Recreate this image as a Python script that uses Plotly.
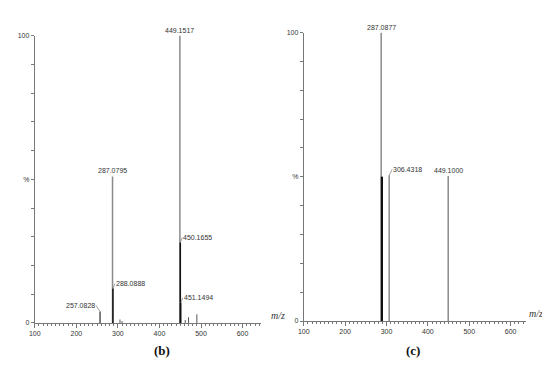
import plotly.graph_objects as go

# ---- data ----
# panel (b)
b_mz = [257.0828, 287.0795, 288.0888, 449.1517, 450.1655, 451.1494]
b_int = [4, 51, 12, 100, 28, 7]
b_col = ["#555555", "#8a8a8a", "#111111", "#8a8a8a", "#111111", "#111111"]
b_noise_mz = [305, 310, 462, 470, 490]
b_noise_int = [1.2, 0.6, 1.0, 2.0, 3.0]
b_labels = ["257.0828", "287.0795", "288.0888", "449.1517", "450.1655", "451.1494"]
b_label_offsets = [(-4, -6), None, (2, -5), None, (2, -5), (2, -5)]

# panel (c)
c_mz = [287.0877, 306.4318, 449.1000]
c_int = [100, 50.5, 50.3]
c_black_mz = [288.0, 289.5]
c_black_int = [50, 50]
c_labels = ["287.0877", "306.4318", "449.1000"]
c_label_offsets = [None, (3, -6), None]

x_ticks = [100, 200, 300, 400, 500, 600]
y_ticks = list(range(0, 101, 10))
y_ticktext = ["0", "", "", "", "", "%", "", "", "", "", "100"]

W, H = 550, 368
def px(x): return x / W
def py(y): return 1 - y / H

fig = go.Figure()

def stick_trace(mz, inten, color, xa, ya, width=1.4):
    xs, ys = [], []
    for m, i in zip(mz, inten):
        xs += [m, m, None]
        ys += [0, i, None]
    return go.Scatter(x=xs, y=ys, mode="lines", line=dict(color=color, width=width),
                      xaxis=xa, yaxis=ya, showlegend=False, hoverinfo="skip")

fig.add_trace(stick_trace(b_noise_mz, b_noise_int, "#555555", "x", "y", 1))
for m, i, c in zip(b_mz, b_int, b_col):
    fig.add_trace(stick_trace([m], [i], c, "x", "y", 1.5))

fig.add_trace(stick_trace(c_mz, c_int, "#8a8a8a", "x2", "y2", 1.5))
fig.add_trace(stick_trace(c_black_mz, c_black_int, "#111111", "x2", "y2", 1.6))

lab_font = dict(family="Arial, Liberation Sans", size=7, color="#333333")
annotations = []
def add_labels(mz, inten, labels, offsets, xref, yref):
    for m, i, t, off in zip(mz, inten, labels, offsets):
        if off is None:
            annotations.append(dict(x=m, y=i, xref=xref, yref=yref, text=t, showarrow=False,
                                    yanchor="bottom", yshift=0, font=lab_font))
        else:
            annotations.append(dict(x=m, y=i, xref=xref, yref=yref, text=t, showarrow=True,
                                    ax=off[0], ay=off[1],
                                    arrowhead=0, arrowwidth=0.7, arrowcolor="#777777",
                                    standoff=0, startstandoff=0, font=lab_font,
                                    xanchor="left" if off[0] > 0 else "right",
                                    yanchor="middle", borderpad=0))

add_labels(b_mz, b_int, b_labels, b_label_offsets, "x", "y")
add_labels(c_mz, c_int, c_labels, c_label_offsets, "x2", "y2")

mz_font = dict(family="Liberation Serif, Times New Roman", size=10, color="#333333")
annotations += [
    dict(x=px(267), y=py(317), xref="paper", yref="paper", text="<i>m/z</i>", showarrow=False, font=mz_font),
    dict(x=px(537), y=py(315), xref="paper", yref="paper", text="<i>m/z</i>", showarrow=False, font=mz_font),
    dict(x=px(140), y=py(355), xref="paper", yref="paper", text="<b>(b)</b>", showarrow=False,
         font=dict(family="Liberation Serif, Times New Roman", size=13, color="#111111")),
    dict(x=px(412), y=py(355), xref="paper", yref="paper", text="<b>(c)</b>", showarrow=False,
         font=dict(family="Liberation Serif, Times New Roman", size=13, color="#111111")),
]

tick_font = dict(family="Arial, Liberation Sans", size=7, color="#333333")
def xaxis_cfg(domain, rng, anchor):
    return dict(domain=domain, range=rng, anchor=anchor, showgrid=False, zeroline=False,
                showline=True, linecolor="#777777", linewidth=1,
                tickmode="array", tickvals=x_ticks, ticks="outside", ticklen=4,
                tickcolor="#777777", tickfont=tick_font,
                minor=dict(dtick=10, tick0=100, ticks="outside", ticklen=2, tickcolor="#777777"))
def yaxis_cfg(domain, anchor):
    return dict(domain=domain, range=[0, 100], anchor=anchor, showgrid=False, zeroline=False,
                showline=True, linecolor="#777777", linewidth=1,
                tickmode="array", tickvals=y_ticks, ticktext=y_ticktext, ticks="outside",
                ticklen=3, tickcolor="#777777", tickfont=tick_font)

fig.update_layout(
    width=W, height=H, margin=dict(l=0, r=0, t=0, b=0),
    paper_bgcolor="white", plot_bgcolor="white",
    xaxis=xaxis_cfg([px(21), px(250)], [100, 645], "y"),
    yaxis=yaxis_cfg([py(317), py(24)], "x"),
    xaxis2=xaxis_cfg([px(293), px(518)], [100, 638], "y2"),
    yaxis2=yaxis_cfg([py(315), py(21)], "x2"),
    annotations=annotations,
)

fig.write_html("out.html")
